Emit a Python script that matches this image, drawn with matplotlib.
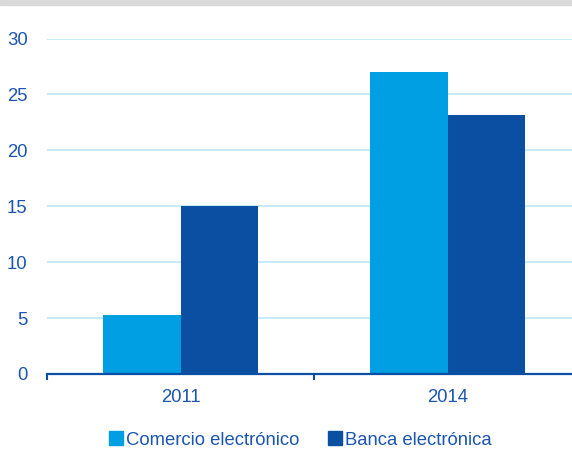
import matplotlib.pyplot as plt
from matplotlib.patches import Patch, Rectangle
import numpy as np

plt.rcParams['font.family'] = ['Liberation Sans', 'DejaVu Sans']

years = ["2011", "2014"]
comercio = [5.3, 27.0]
banca = [15.0, 23.2]
series_names = ["Comercio electrónico", "Banca electrónica"]

c_light = "#009fe3"
c_dark = "#0b4fa2"
text_col = "#1b55b0"

fig = plt.figure(figsize=(5.72, 4.53), dpi=100)
fig.patches.append(Rectangle((0, 1 - 5 / 453), 1, 5 / 453, transform=fig.transFigure,
                             color="#d9d9d9", zorder=0))

ax = fig.add_axes([47 / 572, 79 / 453, 1 - 47 / 572, 335.5 / 453])

x = np.arange(len(years))
w = 0.29
ax.bar(x - w / 2, comercio, w, color=c_light, zorder=3)
ax.bar(x + w / 2, banca, w, color=c_dark, zorder=3)

ax.set_ylim(0, 30)
ax.set_xlim(-0.5, (572 - 47) / 267 - 0.5)
ax.set_yticks(range(0, 31, 5))
ax.yaxis.grid(True, color="#bfe6fb", linewidth=1.2, zorder=0)
ax.tick_params(axis="y", length=0, pad=14, labelsize=13.3, labelcolor=text_col)

ax.set_xticks([-0.5, 0.5])
ax.set_xticklabels([])
ax.set_xticks(x, minor=True)
ax.set_xticklabels(years, minor=True)
ax.tick_params(axis="x", which="major", length=4, width=1.5, color=c_dark, direction="out")
ax.tick_params(axis="x", which="minor", length=0, pad=11, labelsize=13.3, labelcolor=text_col)

for s in ["top", "right", "left"]:
    ax.spines[s].set_visible(False)
ax.spines["bottom"].set_color(c_dark)
ax.spines["bottom"].set_linewidth(1.6)
ax.spines["bottom"].set_zorder(4)

handles = [Patch(color=c_light), Patch(color=c_dark)]
fig.legend(handles, series_names, loc="center", bbox_to_anchor=(0.525, 1 - 440 / 453),
           ncol=2, frameon=False, fontsize=13.3, handlelength=0.75, handleheight=0.75,
           handletextpad=0.15, columnspacing=1.55, labelcolor=text_col)

fig.savefig("out.png", dpi=100)
